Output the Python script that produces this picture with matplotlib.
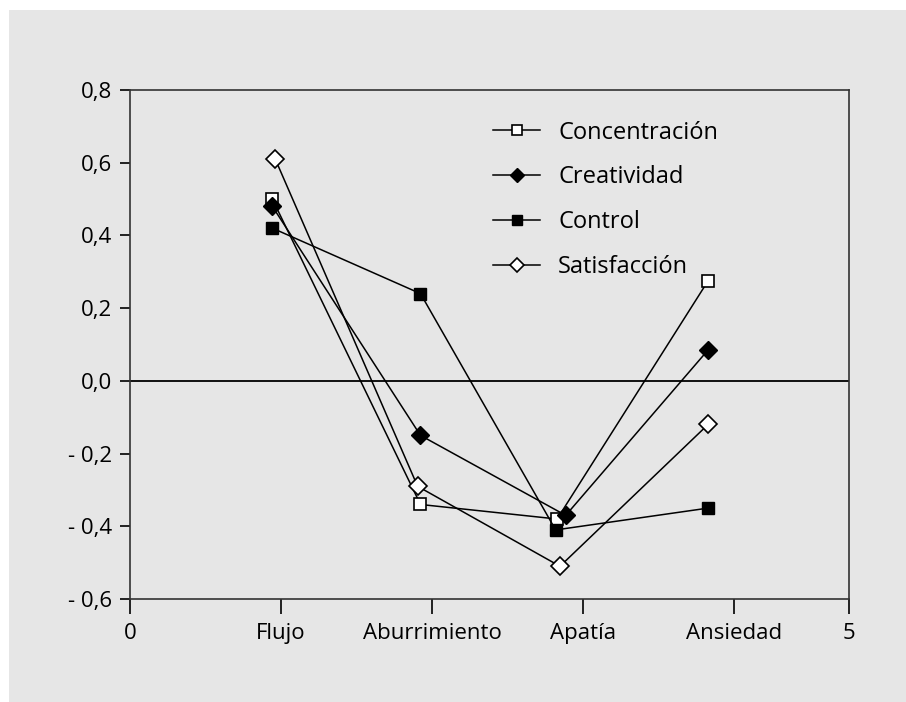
import matplotlib
matplotlib.use("Agg")
import matplotlib.pyplot as plt
from matplotlib.patches import Rectangle

plt.rcParams['font.family'] = ['Open Sans', 'DejaVu Sans']

# categories and tick positions
categories = ['0', 'Flujo', 'Aburrimiento', 'Apatía', 'Ansiedad', '5']
cat_pos = [0, 1.05, 2.1, 3.15, 4.2, 5]

yticks = [0.8, 0.6, 0.4, 0.2, 0.0, -0.2, -0.4, -0.6]
ylabels = ['0,8', '0,6', '0,4', '0,2', '0,0', '- 0,2', '- 0,4', '- 0,6']

# series (x slightly jittered like in the original)
conc_x = [0.99, 2.02, 2.97, 4.02]
conc_y = [0.50, -0.34, -0.38, 0.275]
crea_x = [0.99, 2.02, 3.03, 4.02]
crea_y = [0.48, -0.15, -0.37, 0.085]
ctrl_x = [0.99, 2.02, 2.96, 4.02]
ctrl_y = [0.42, 0.24, -0.41, -0.35]
sati_x = [1.01, 2.00, 2.99, 4.02]
sati_y = [0.61, -0.29, -0.51, -0.12]

bg = '#e6e6e6'
fig = plt.figure(figsize=(9.06, 7.02), dpi=100)
fig.patch.set_facecolor('white')
fig.patches.append(Rectangle((9/906, 0), 1, 1 - 10/702, transform=fig.transFigure,
                             facecolor=bg, edgecolor='none', zorder=-1))

ax = fig.add_axes([130/906, 1 - 599/702, (849 - 130)/906, (599 - 90)/702])
ax.set_facecolor(bg)

ax.axhline(0, color='black', lw=1.3, zorder=1)

ax.plot(conc_x, conc_y, color='black', lw=1.1, marker='s', ms=9, mfc='white',
        mec='black', mew=1.2, label='Concentración', zorder=3)
ax.plot(crea_x, crea_y, color='black', lw=1.1, marker='D', ms=9, mfc='black',
        mec='black', mew=1.0, label='Creatividad', zorder=3)
ax.plot(ctrl_x, ctrl_y, color='black', lw=1.1, marker='s', ms=9, mfc='black',
        mec='black', mew=1.0, label='Control', zorder=3)
ax.plot(sati_x, sati_y, color='black', lw=1.1, marker='D', ms=9, mfc='white',
        mec='black', mew=1.2, label='Satisfacción', zorder=3)

ax.set_xlim(0, 5)
ax.set_ylim(-0.6, 0.8)
ax.set_xticks(cat_pos)
ax.set_xticklabels(categories, fontsize=16)
ax.set_yticks(yticks)
ax.set_yticklabels(ylabels, fontsize=16)
ax.tick_params(axis='x', direction='out', length=11, width=1.2, pad=6)
ax.tick_params(axis='y', direction='out', length=7, width=1.2, pad=6)
for s in ax.spines.values():
    s.set_color('#333333')
    s.set_linewidth(1.2)

ax.legend(loc='upper left', bbox_to_anchor=(0.505, 0.94), frameon=False,
          fontsize=17, handlelength=2.0, labelspacing=0.88, handletextpad=0.75,
          markerscale=0.8, borderpad=0, borderaxespad=0)

fig.savefig('out.png', dpi=100, facecolor=fig.get_facecolor())
